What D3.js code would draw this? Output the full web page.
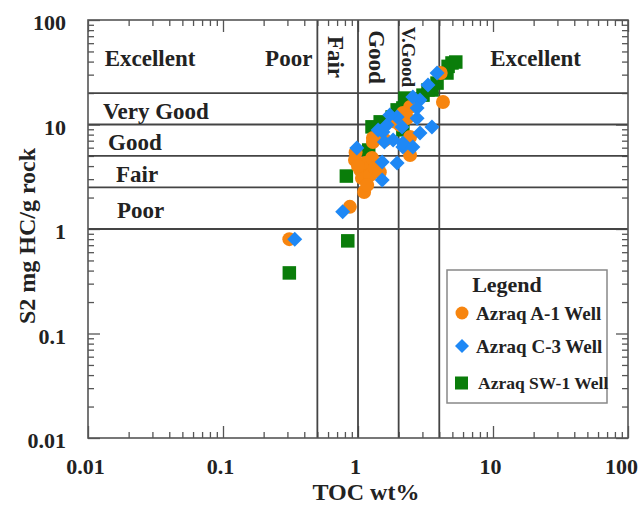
<!DOCTYPE html>
<head>
    <meta charset="utf-8">
    <script src="https://d3js.org/d3.v7.min.js"></script>
    <style>
        body { margin: 0; background: #fff; }
        svg { font-family: "Liberation Serif", "Times New Roman", serif; font-weight: bold; }
        .tick text { font-family: "Liberation Serif", "Times New Roman", serif; font-weight: bold; font-size: 22px; fill: #222; }
    </style>
</head>
<body>
<script>
    // TOC (wt%) and S2 (mg HC/g rock)
    var a1Toc = [0.31, 0.87, 1.11, 0.95, 1.04, 1.13, 1.27, 1.07, 1.23, 0.96, 1.34, 1.17, 1.29, 1.38, 2.43, 4.26, 2.43, 2.15, 2.31, 2.05, 2.43, 1.29, 1.89, 1.58, 4.1, 1.45, 1.0];
    var a1S2 = [0.80, 1.63, 2.26, 4.57, 3.67, 4.28, 4.78, 3.08, 3.29, 5.4, 3.84, 2.64, 6.80, 7.6, 5.11, 16.4, 14.7, 12.9, 11.5, 9.9, 7.59, 7.43, 10.6, 7.1, 31.1, 3.5, 4.0];
    var c3Toc = [0.34, 0.77, 0.98, 1.51, 1.51, 1.95, 1.53, 1.82, 2.15, 2.12, 3.85, 3.30, 2.88, 2.74, 1.95, 2.74, 1.64, 1.41, 3.53, 2.88, 1.57, 2.15, 2.55, 2.55, 1.72];
    var c3S2 = [0.80, 1.46, 5.96, 4.38, 2.94, 4.28, 8.48, 7.11, 6.09, 9.47, 31.1, 23.9, 17.2, 14.4, 11.8, 11.5, 9.9, 8.86, 9.47, 8.30, 6.8, 6.65, 6.09, 18.3, 12.3];
    var sw1Toc = [0.31, 0.84, 0.82, 4.97, 4.56, 3.85, 3.53, 3.03, 2.55, 2.15, 1.95, 1.79, 1.46, 3.3, 2.23, 1.27, 2.15, 1.2, 4.65, 5.3];
    var sw1S2 = [0.38, 0.77, 3.21, 38.8, 31.1, 24.9, 21.4, 19.1, 16.4, 14.4, 13.8, 11.8, 10.6, 21.4, 17.9, 9.5, 8.9, 5.7, 36, 39.6];

    var seriesNames = ["Azraq A-1 Well", "Azraq C-3 Well", "Azraq SW-1 Well"];
    var majorTicks = [0.01, 0.1, 1, 10, 100];
    var tickLabels = ["0.01", "0.1", "1", "10", "100"];
    // class boundaries
    var tocLimits = [0.5, 1, 2, 4];
    var s2Limits = [1, 2.5, 5, 10, 20];
    var tocClasses = ["Poor", "Fair", "Good", "V.Good", "Excellent"];
    var s2Classes = ["Poor", "Fair", "Good", "Very Good", "Excellent"];

    var W = 640, H = 506;
    var pL = 88, pR = 628, pT = 20, pB = 438;

    var x = d3.scaleLog().domain([0.01, 100]).range([pL, pR]);
    var y = d3.scaleLog().domain([0.01, 100]).range([pB, pT]);

    var minorTicks = [];
    [0.01, 0.1, 1, 10].forEach(function (d) {
        for (var k = 2; k <= 9; k++) minorTicks.push(+(d * k).toPrecision(3));
    });

    var svg = d3.select("body").append("svg").attr("width", W).attr("height", H);

    function fmt(d) { return tickLabels[majorTicks.indexOf(d)]; }

    // axes with inward ticks
    var gx = svg.append("g").attr("transform", "translate(0," + pB + ")")
        .call(d3.axisBottom(x).tickValues(majorTicks).tickFormat(fmt).tickSize(-12).tickPadding(20));
    gx.selectAll(".tick text").attr("dx", function (d) { return d === 100 ? -7 : -3; });
    svg.append("g").attr("transform", "translate(0," + pB + ")")
        .call(d3.axisBottom(x).tickValues(minorTicks).tickFormat("").tickSize(-6));
    var gy = svg.append("g").attr("transform", "translate(" + pL + ",0)")
        .call(d3.axisLeft(y).tickValues(majorTicks).tickFormat(fmt).tickSize(-12).tickPadding(22));
    gy.selectAll(".tick text").attr("dy", "0.45em");
    svg.append("g").attr("transform", "translate(" + pL + ",0)")
        .call(d3.axisLeft(y).tickValues(minorTicks).tickFormat("").tickSize(-6));
    svg.append("g").attr("transform", "translate(0," + pT + ")")
        .call(d3.axisTop(x).tickValues(majorTicks).tickFormat("").tickSize(-12));
    svg.append("g").attr("transform", "translate(0," + pT + ")")
        .call(d3.axisTop(x).tickValues(minorTicks).tickFormat("").tickSize(-6));
    svg.append("g").attr("transform", "translate(" + pR + ",0)")
        .call(d3.axisRight(y).tickValues(majorTicks).tickFormat("").tickSize(-12));
    svg.append("g").attr("transform", "translate(" + pR + ",0)")
        .call(d3.axisRight(y).tickValues(minorTicks).tickFormat("").tickSize(-6));
    svg.selectAll(".domain").remove();
    svg.selectAll(".tick line").attr("stroke", "#555").attr("stroke-width", 1.3);

    // class boundary lines
    svg.selectAll(".vline").data(tocLimits).join("line")
        .attr("x1", function (d) { return x(d); }).attr("x2", function (d) { return x(d); })
        .attr("y1", pT).attr("y2", pB)
        .attr("stroke", "#444").attr("stroke-width", 1.8);
    svg.selectAll(".hline").data(s2Limits).join("line")
        .attr("x1", pL).attr("x2", pR)
        .attr("y1", function (d) { return y(d); }).attr("y2", function (d) { return y(d); })
        .attr("stroke", "#444").attr("stroke-width", 1.8);

    svg.append("rect").attr("x", pL).attr("y", pT)
        .attr("width", pR - pL).attr("height", pB - pT)
        .attr("fill", "none").attr("stroke", "#555").attr("stroke-width", 1.6);

    // class labels
    var lab = svg.append("g").attr("font-size", 23).attr("fill", "#222");
    var yTopRow = 58;
    lab.append("text").attr("x", 150).attr("y", yTopRow).attr("dy", "0.35em")
        .attr("text-anchor", "middle").text(s2Classes[4]);
    lab.append("text").attr("x", x(0.5) - 5).attr("y", yTopRow).attr("dy", "0.35em")
        .attr("text-anchor", "end").text(tocClasses[0]);
    [[x(0.5) + 19, 1, 23], [x(1) + 19, 2, 23], [x(2) + 10, 3, 19]].forEach(function (p) {
        lab.append("text").attr("transform", "translate(" + p[0] + "," + (yTopRow - 1) + ") rotate(90)")
            .attr("text-anchor", "middle").attr("dy", "0.35em").attr("font-size", p[2])
            .text(tocClasses[p[1]]);
    });
    lab.append("text").attr("x", (x(4) + pR) / 2 + 2).attr("y", yTopRow).attr("dy", "0.35em")
        .attr("text-anchor", "middle").text(tocClasses[4]);
    var s2Rows = [[1, 2.5, 0, 117], [2.5, 5, 1, 116], [5, 10, 2, 108], [10, 20, 3, 103]];
    s2Rows.forEach(function (r) {
        lab.append("text").attr("x", r[3]).attr("y", y(Math.sqrt(r[0] * r[1])) + 2)
            .attr("dy", "0.35em").text(s2Classes[r[2]]);
    });

    // data
    var colors = ["#f7850f", "#1e88f5", "#0a7d0a"];
    var sq = 13.5, dia = 7.5;
    var g = svg.append("g");
    g.selectAll(".sw1").data(sw1Toc).join("rect")
        .attr("x", function (d) { return x(d) - sq / 2; })
        .attr("y", function (d, i) { return y(sw1S2[i]) - sq / 2; })
        .attr("width", sq).attr("height", sq).attr("fill", colors[2]);
    g.selectAll(".a1").data(a1Toc).join("circle")
        .attr("cx", function (d) { return x(d); })
        .attr("cy", function (d, i) { return y(a1S2[i]); })
        .attr("r", 7).attr("fill", colors[0]);
    g.selectAll(".c3").data(c3Toc).join("path")
        .attr("d", "M0," + (-dia) + "L" + dia + ",0L0," + dia + "L" + (-dia) + ",0Z")
        .attr("transform", function (d, i) { return "translate(" + x(d) + "," + y(c3S2[i]) + ")"; })
        .attr("fill", colors[1]);

    // axis titles
    svg.append("text").attr("x", (pL + pR) / 2 + 8).attr("y", 500)
        .attr("text-anchor", "middle").attr("font-size", 24).attr("fill", "#222").text("TOC wt%");
    svg.append("text").attr("transform", "translate(27,236) rotate(-90)")
        .attr("text-anchor", "middle").attr("dy", "0.35em").attr("font-size", 24).attr("fill", "#222")
        .text("S2 mg HC/g rock");

    // legend
    var lg = svg.append("g").attr("transform", "translate(447,270)");
    lg.append("rect").attr("width", 160).attr("height", 133)
        .attr("fill", "#fff").attr("stroke", "#888").attr("stroke-width", 1.5);
    lg.append("text").attr("x", 60).attr("y", 14).attr("dy", "0.35em")
        .attr("text-anchor", "middle").attr("font-size", 22).attr("fill", "#222").text("Legend");
    var ly = [43, 76, 113];
    lg.append("circle").attr("cx", 15).attr("cy", ly[0]).attr("r", 6.5).attr("fill", colors[0]);
    lg.append("path").attr("d", "M0,-7L7,0L0,7L-7,0Z")
        .attr("transform", "translate(15," + ly[1] + ")").attr("fill", colors[1]);
    lg.append("rect").attr("x", 8).attr("y", ly[2] - 6.5).attr("width", 13).attr("height", 13).attr("fill", colors[2]);
    seriesNames.forEach(function (n, i) {
        lg.append("text").attr("x", i === 2 ? 31 : 29).attr("y", ly[i]).attr("dy", "0.35em")
            .attr("font-size", i === 2 ? 17.5 : 19).attr("fill", "#222").text(n);
    });
</script>
</body>
